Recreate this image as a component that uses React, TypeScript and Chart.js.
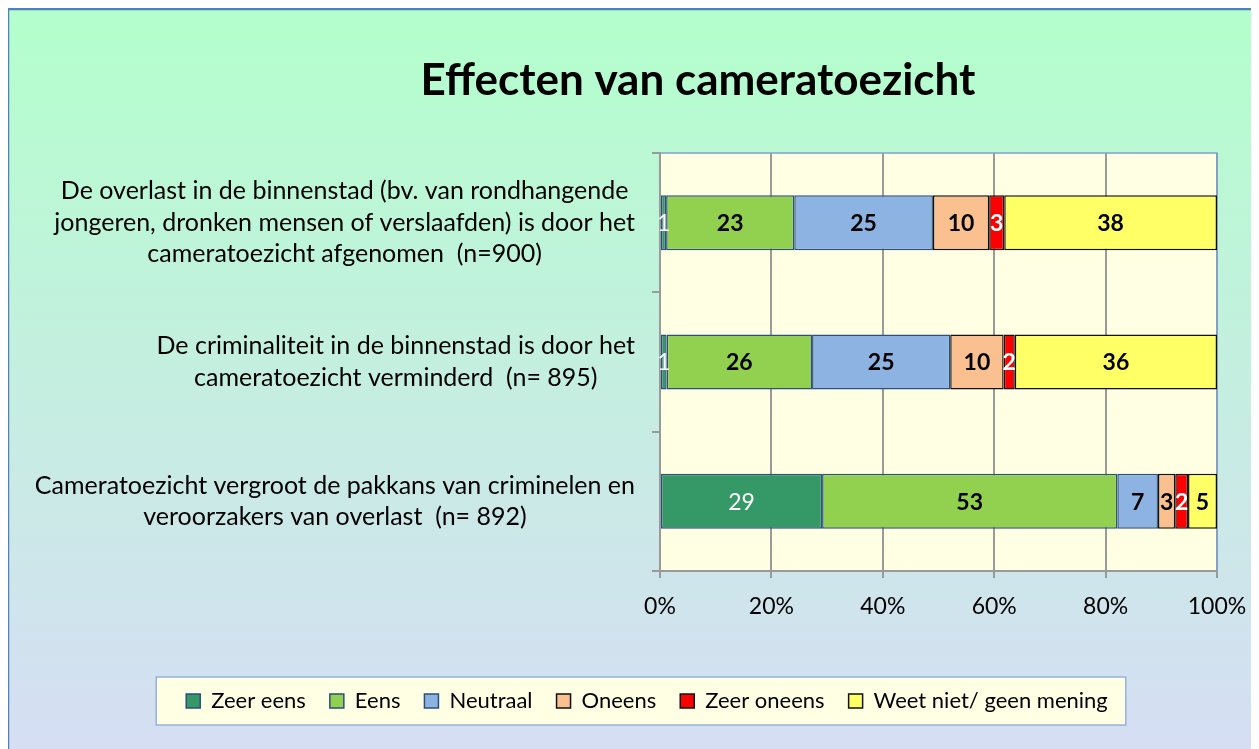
import React, { useEffect, useRef } from "react";
import { Chart, registerables } from "chart.js";

Chart.register(...registerables);

const TITLE = "Effecten van cameratoezicht";

const categories: string[][] = [
  [
    "De overlast in de binnenstad (bv. van rondhangende",
    "jongeren, dronken mensen of verslaafden) is door het",
    "cameratoezicht afgenomen  (n=900)",
  ],
  ["De criminaliteit in de binnenstad is door het", "cameratoezicht verminderd  (n= 895)"],
  ["Cameratoezicht vergroot de pakkans van criminelen en", "veroorzakers van overlast  (n= 892)"],
];

const seriesNames = ["Zeer eens", "Eens", "Neutraal", "Oneens", "Zeer oneens", "Weet niet/ geen mening"];

const zeerEens = [1.1, 1.2, 29.1];
const eens = [23.0, 26.1, 53.0];
const neutraal = [24.9, 24.8, 7.3];
const oneens = [10.1, 9.6, 3.1];
const zeerOneens = [2.7, 2.0, 2.3];
const weetNiet = [38.2, 36.3, 5.2];

const xTicks = [0, 20, 40, 60, 80, 100];

const fills = ["#349966", "#92D050", "#8DB3E2", "#FAC090", "#FF0000", "#FFFF66"];
const borders = ["#2C4F7C", "#2C4F7C", "#2C4F7C", "#111111", "#111111", "#111111"];
const labelColors = ["#FFFFFF", "#000000", "#000000", "#000000", "#FFFFFF", "#000000"];
const labelBold = [false, true, true, true, true, true];

const FONT = "Lato, 'Open Sans', sans-serif";

const decorPlugin = {
  id: "decor",
  beforeDraw(chart: any) {
    const { ctx, width, height, chartArea } = chart;
    ctx.save();
    const g = ctx.createLinearGradient(0, 0, 0, height);
    g.addColorStop(0, "#B3FFCC");
    g.addColorStop(1, "#D6DEF4");
    ctx.fillStyle = g;
    ctx.fillRect(0, 0, width, height);
    ctx.strokeStyle = "#4F81BD";
    ctx.lineWidth = 2.5;
    ctx.strokeRect(0, 1, width + 10, height + 10);
    // plot area
    ctx.fillStyle = "#FFFFE3";
    ctx.fillRect(chartArea.left, chartArea.top, chartArea.right - chartArea.left, chartArea.bottom - chartArea.top);
    // legend box
    const lg = chart.legend;
    if (lg && lg.legendHitBoxes && lg.legendHitBoxes.length) {
      const hb = lg.legendHitBoxes;
      let l = Infinity, r = -Infinity;
      for (const b of hb) {
        l = Math.min(l, b.left);
        r = Math.max(r, b.left + b.width);
      }
      const cy = hb[0].top + hb[0].height / 2;
      ctx.fillStyle = "#FFFFE3";
      ctx.fillRect(l - 30, cy - 24, r - l + 48, 48);
      ctx.strokeStyle = "#95B3DE";
      ctx.lineWidth = 1.5;
      ctx.strokeRect(l - 30, cy - 24, r - l + 48, 48);
    }
    // title
    ctx.fillStyle = "#000000";
    ctx.font = `bold 44px ${FONT}`;
    ctx.textAlign = "center";
    ctx.textBaseline = "middle";
    ctx.fillText(TITLE, 690, 73);
    ctx.restore();
  },
  beforeDatasetsDraw(chart: any) {
    const { ctx, chartArea } = chart;
    ctx.save();
    ctx.strokeStyle = "#7FA3D3";
    ctx.lineWidth = 1.5;
    ctx.beginPath();
    ctx.moveTo(chartArea.left, chartArea.top);
    ctx.lineTo(chartArea.right, chartArea.top);
    ctx.lineTo(chartArea.right, chartArea.bottom);
    ctx.stroke();
    ctx.restore();
  },
  afterDraw(chart: any) {
    const { ctx } = chart;
    const yScale = chart.scales.y;
    ctx.save();
    // category labels
    ctx.font = `25px ${FONT}`;
    ctx.fillStyle = "#000000";
    ctx.textAlign = "center";
    ctx.textBaseline = "middle";
    const lineH = 31.5;
    const rightEdge = 627;
    categories.forEach((lines, i) => {
      const cy = yScale.getPixelForValue(i);
      const widest = Math.max(...lines.map((t) => ctx.measureText(t).width));
      const cx = rightEdge - widest / 2;
      lines.forEach((t, k) => {
        ctx.fillText(t, cx, cy + (k - (lines.length - 1) / 2) * lineH);
      });
    });
    // data labels
    chart.data.datasets.forEach((ds: any, di: number) => {
      const meta = chart.getDatasetMeta(di);
      ctx.font = `${labelBold[di] ? "bold " : ""}23px ${FONT}`;
      ctx.fillStyle = labelColors[di];
      meta.data.forEach((el: any, j: number) => {
        const v = ds.data[j];
        const { x, y, base } = el.getProps(["x", "y", "base"], true);
        ctx.fillText(String(Math.round(v)), (x + base) / 2, y + 1);
      });
    });
    ctx.restore();
  },
};

export default function App() {
  const ref = useRef<HTMLCanvasElement>(null);
  useEffect(() => {
    document.body.style.overflow = "hidden";
    const series = [zeerEens, eens, neutraal, oneens, zeerOneens, weetNiet];
    const chart = new Chart(ref.current as HTMLCanvasElement, {
      type: "bar",
      data: {
        labels: categories.map((c) => c.join(" ")),
        datasets: series.map((d, i) => ({
          label: seriesNames[i],
          data: d,
          backgroundColor: fills[i],
          borderColor: borders[i],
          borderWidth: 1.5,
          borderSkipped: false,
          categoryPercentage: 1,
          barPercentage: 0.395,
        })),
      },
      options: {
        indexAxis: "y",
        responsive: false,
        animation: false,
        layout: { padding: { left: 27, right: 0, top: 145, bottom: 27 } },
        scales: {
          x: {
            stacked: true,
            min: 0,
            max: 100,
            afterFit: (s: any) => {
              s.height = 95;
              s.paddingLeft = 0;
              s.paddingRight = 0;
            },
            afterBuildTicks: (s: any) => {
              s.ticks = xTicks.map((v) => ({ value: v }));
            },
            grid: { color: "#9A9A9A", lineWidth: 2, tickLength: 7 },
            border: { color: "#9A9A9A", width: 2 },
            ticks: {
              padding: 15,
              color: "#000000",
              font: { family: FONT, size: 23 },
              callback: (v: any) => `${v}%`,
            },
          },
          y: {
            stacked: true,
            afterFit: (s: any) => {
              s.width = 625;
            },
            grid: { color: "#9A9A9A", lineWidth: 2, tickLength: 8, drawOnChartArea: false, offset: true },
            border: { color: "#9A9A9A", width: 2 },
            ticks: { display: false },
          },
          yR: {
            type: "linear",
            position: "right",
            display: true,
            afterFit: (s: any) => {
              s.width = 42;
            },
            grid: { display: false },
            border: { display: false },
            ticks: { display: false },
          },
        },
        plugins: {
          title: { display: false },
          tooltip: { enabled: false },
          legend: {
            position: "bottom",
            labels: {
              boxWidth: 14,
              boxHeight: 14,
              padding: 24,
              color: "#000000",
              font: { family: FONT, size: 22 },
            },
          },
        },
      },
      plugins: [decorPlugin],
    } as any);
    return () => chart.destroy();
  }, []);
  return (
    <div>
      <canvas ref={ref} width={1251} height={741} style={{ display: "block" }} />
    </div>
  );
}
